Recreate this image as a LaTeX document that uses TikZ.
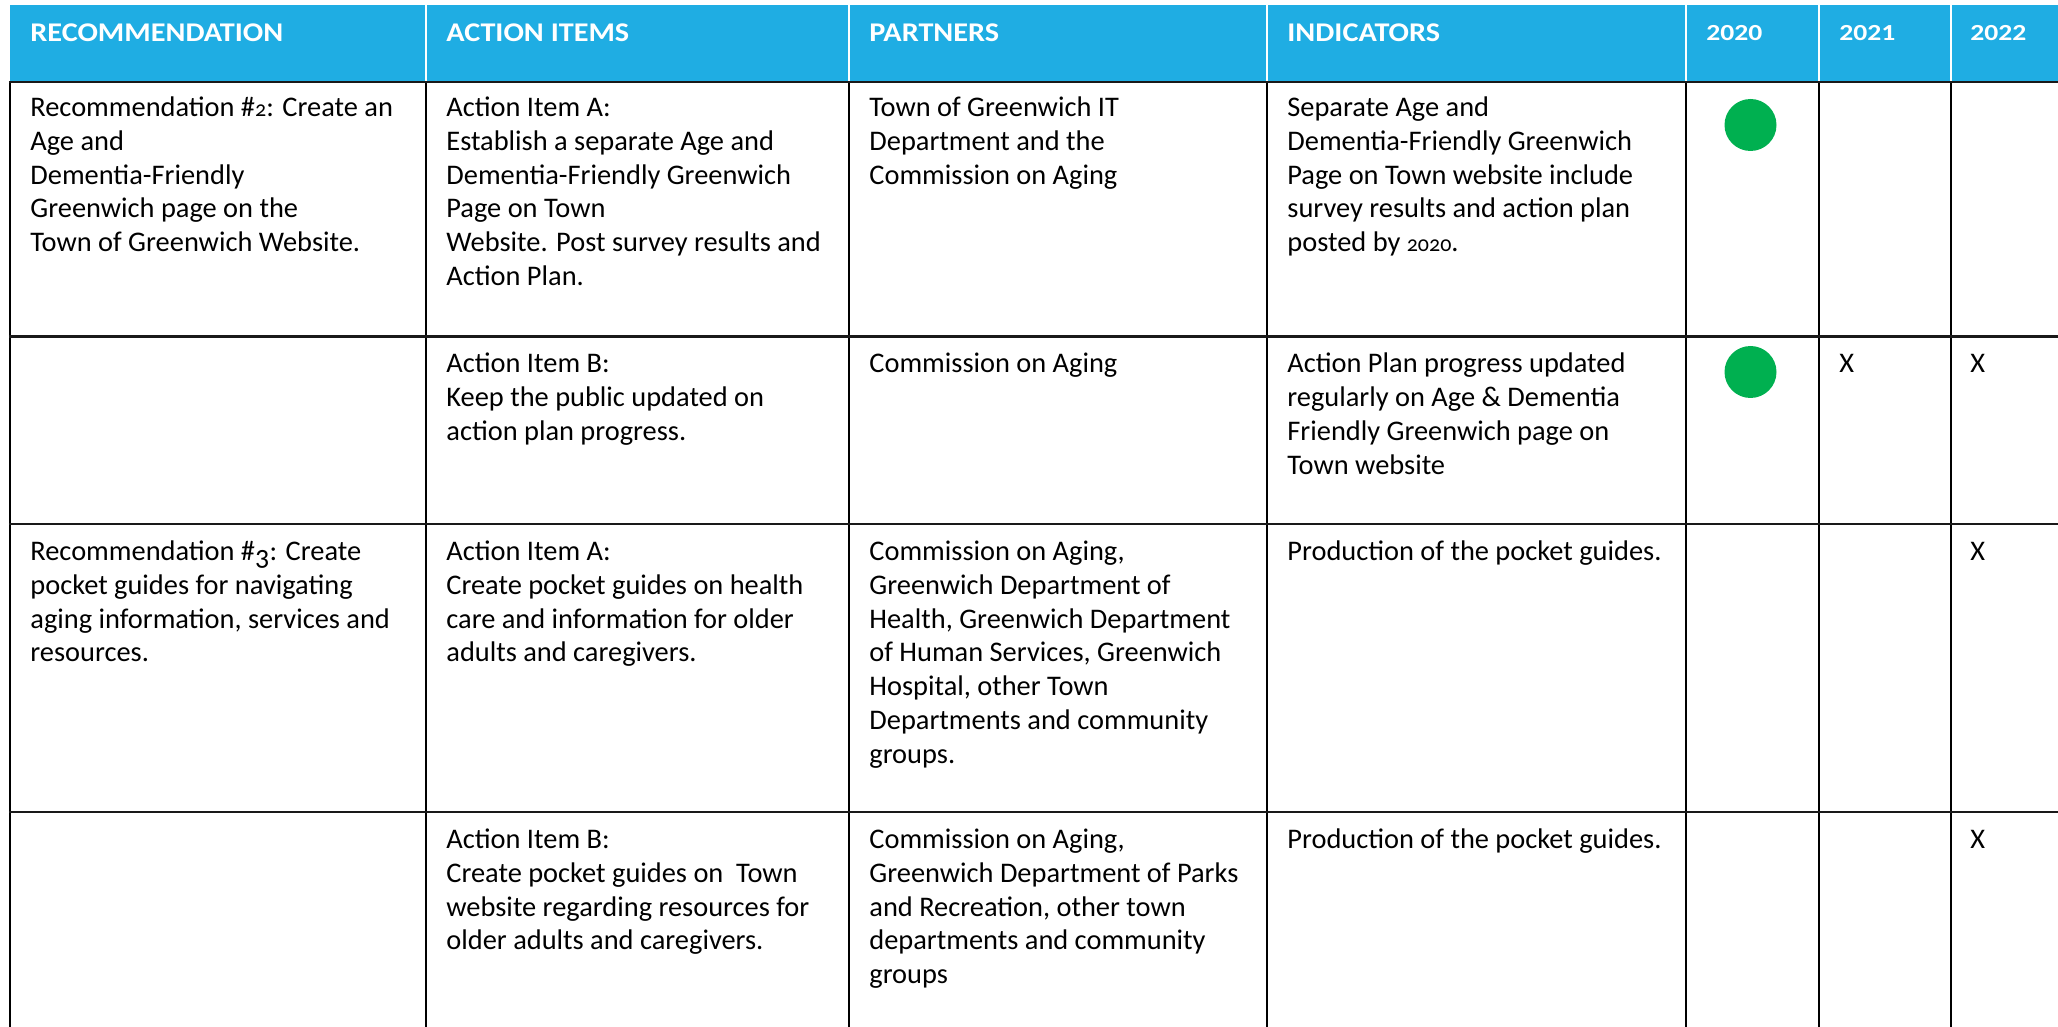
\documentclass[tikz,border=0pt]{standalone}
\usepackage{fontspec}
\setmainfont{Carlito}[Numbers=OldStyle]
\newfontfamily\hdrfont{Carlito}[Numbers=Lining]
\definecolor{hdrblue}{RGB}{31,173,227}
\definecolor{dotgreen}{RGB}{0,176,80}
\newcommand{\celltext}[1]{\begin{tabular}[t]{@{}l@{}}#1\end{tabular}}
\newcommand{\osfig}[1]{{\fontsize{11}{12}\selectfont #1}}
\newcommand{\osdrop}[1]{\raisebox{-0.18em}{#1}}
\tikzset{
  cell/.style={anchor=base west, inner sep=0pt, text=black,
    font=\fontsize{14.2}{16.9}\selectfont},
  hdr/.style={anchor=base west, inner sep=0pt, text=white,
    font=\hdrfont\fontsize{13.5}{16}\selectfont\bfseries},
  yr/.style={anchor=base west, inner sep=0pt, text=white,
    font=\hdrfont\fontsize{11.5}{14}\selectfont\bfseries},
  vline/.style={draw=black, line width=1pt},
  hline/.style={draw=black!90, line width=1.4pt},
  hdiv/.style={draw=white, line width=1pt},
  dot/.style={circle, fill=dotgreen, inner sep=0pt, minimum size=26pt},
}
\begin{document}
\begin{tikzpicture}[x=0.5pt,y=-0.5pt]
\useasboundingbox (0,0) rectangle (2058,1027);
% header band
\fill[hdrblue] (10,5) rectangle (2058,82);
\foreach \xx in {425.5,849,1267,1686,1819,1950.5}
  \draw[hdiv] (\xx,5) -- (\xx,81);
% body grid
\foreach \xx in {9.5,425.5,849,1267,1686,1819,1950.5}
  \draw[vline] (\xx,82) -- (\xx,1027);
\foreach \yy in {82,336.5,524,812}
  \draw[hline] (8.8,\yy) -- (2058,\yy);
% header texts
\node[hdr] (h1) at (30,41.5) {\scalebox{1.12}[1]{RECOMMENDATION}};
\node[hdr] (h2) at (446,41.5) {\scalebox{1.12}[1]{ACTION ITEMS}};
\node[hdr] (h3) at (869,41.5) {\scalebox{1.12}[1]{PARTNERS}};
\node[hdr] (h4) at (1287,41.5) {\scalebox{1.12}[1]{INDICATORS}};
\node[yr] (h5) at (1706,41) {\scalebox{1.2}[1]{2020}};
\node[yr] (h6) at (1839,41) {\scalebox{1.2}[1]{2021}};
\node[yr] (h7) at (1970,41) {\scalebox{1.2}[1]{2022}};
% row 1
\node[cell] (r1c1) at (30,116.5) {\celltext{Recommendation \#\osfig{2}: Create an\\Age and\\Dementia-Friendly\\Greenwich page on the\\Town of Greenwich Website.}};
\node[cell] (r1c2) at (446,116.5) {\celltext{Action Item A:\\Establish a separate Age and\\Dementia-Friendly Greenwich\\Page on Town\\Website. Post survey results and\\Action Plan.}};
\node[cell] (r1c3) at (869,116.5) {\celltext{Town of Greenwich IT\\Department and the\\Commission on Aging}};
\node[cell] (r1c4) at (1287,116.5) {\celltext{Separate Age and\\Dementia-Friendly Greenwich\\Page on Town website include\\survey results and action plan\\posted by \osfig{2020}.}};
\node[dot] (r1d) at (1750.5,125) {};
% row 2
\node[cell] (r2c2) at (446,373) {\celltext{Action Item B:\\Keep the public updated on\\action plan progress.}};
\node[cell] (r2c3) at (869,373) {\celltext{Commission on Aging}};
\node[cell] (r2c4) at (1287,373) {\celltext{Action Plan progress updated\\regularly on Age \& Dementia\\Friendly Greenwich page on\\Town website}};
\node[dot] (r2d) at (1750.5,372) {};
\node[cell] (r2x1) at (1839,373) {X};
\node[cell] (r2x2) at (1970,373) {X};
% row 3
\node[cell] (r3c1) at (30,560.5) {\celltext{Recommendation \#\osdrop{3}: Create\\pocket guides for navigating\\aging information, services and\\resources.}};
\node[cell] (r3c2) at (446,560.5) {\celltext{Action Item A:\\Create pocket guides on health\\care and information for older\\adults and caregivers.}};
\node[cell] (r3c3) at (869,560.5) {\celltext{Commission on Aging,\\Greenwich Department of\\Health, Greenwich Department\\of Human Services, Greenwich\\Hospital, other Town\\Departments and community\\groups.}};
\node[cell] (r3c4) at (1287,560.5) {\celltext{Production of the pocket guides.}};
\node[cell] (r3x) at (1970,560.5) {X};
% row 4
\node[cell] (r4c2) at (446,848.5) {\celltext{Action Item B:\\Create pocket guides on~ Town\\website regarding resources for\\older adults and caregivers.}};
\node[cell] (r4c3) at (869,848.5) {\celltext{Commission on Aging,\\Greenwich Department of Parks\\and Recreation, other town\\departments and community\\groups}};
\node[cell] (r4c4) at (1287,848.5) {\celltext{Production of the pocket guides.}};
\node[cell] (r4x) at (1970,848.5) {X};
\end{tikzpicture}
\end{document}
